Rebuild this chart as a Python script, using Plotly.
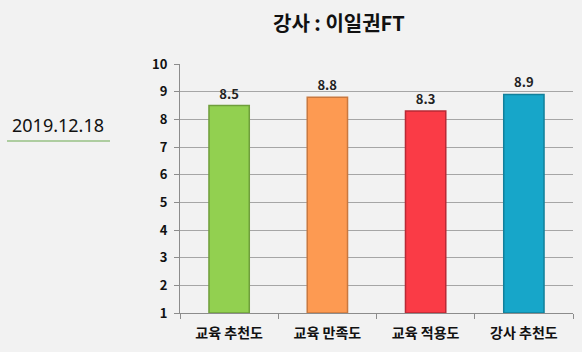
import plotly.graph_objects as go

categories = ["교육 추천도", "교육 만족도", "교육 적용도", "강사 추천도"]
values = [8.5, 8.8, 8.3, 8.9]
colors = ["#92d050", "#fd9a52", "#fa3b46", "#17a6c9"]
edge_colors = ["#6f9e3c", "#c9783f", "#b82a35", "#12809b"]
y_ticks = list(range(1, 11))
title_text = "강사 : 이일권FT"
date_text = "2019.12.18"

fig = go.Figure()
fig.add_trace(go.Bar(
    x=categories, y=[v - 1 for v in values], base=1,
    marker=dict(color=colors, line=dict(color=edge_colors, width=1.5)),
    width=0.41,
    text=[f"<b>{v:.1f}</b>" for v in values], textposition="outside",
    textfont=dict(family="Noto Sans CJK KR", size=13, color="#222222"),
    cliponaxis=False,
))

fig.update_layout(
    width=582, height=352,
    paper_bgcolor="#f2f2f2", plot_bgcolor="#f2f2f2",
    margin=dict(l=180, r=9, t=64, b=39),
    showlegend=False,
    font=dict(family="Noto Sans CJK KR", color="#111111"),
)
fig.update_yaxes(
    range=[1, 10], tickvals=y_ticks, showgrid=True, gridcolor="#a6a6a6", gridwidth=1,
    showline=True, linecolor="#8c8c8c", ticks="outside", ticklen=5, tickcolor="#8c8c8c",
    tickfont=dict(size=13, family="Noto Sans CJK KR", weight="bold"), zeroline=False,
    ticklabelstandoff=4,
)
fig.update_xaxes(
    showline=True, linecolor="#8c8c8c", ticks="outside", ticklen=5, tickcolor="#8c8c8c",
    tickson="boundaries",
    tickfont=dict(size=14, family="Noto Sans CJK KR", weight="bold"),
    ticklabelstandoff=7,
)

W, H = 582, 352
l, r, t, b = 180, 9, 64, 39
pw, ph = W - l - r, H - t - b

def px(x):
    return (x - l) / pw

def py(y):
    return 1 - (y - t) / ph

fig.add_annotation(
    text=f"<b>{title_text}</b>", x=px(339), y=py(22), xref="paper", yref="paper",
    xanchor="center", yanchor="middle",
    showarrow=False, font=dict(size=20, color="#111111"),
)
fig.add_annotation(
    text=date_text, x=px(58), y=py(125), xref="paper", yref="paper",
    xanchor="center", yanchor="middle",
    showarrow=False, font=dict(size=18, color="#111111", family="Noto Sans"),
)
fig.add_shape(type="line", x0=px(7), x1=px(110), y0=py(141), y1=py(141),
              xref="paper", yref="paper", line=dict(color="#6aa84f", width=1))

fig.write_html("out.html")
